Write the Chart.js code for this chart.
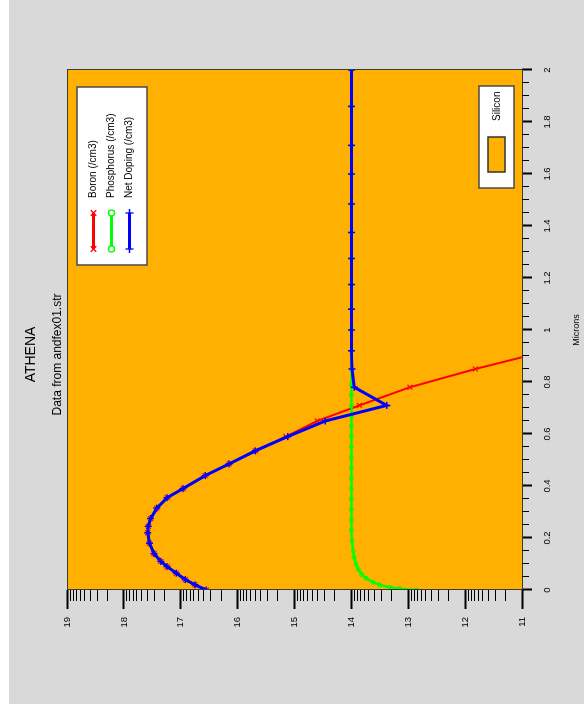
<!DOCTYPE html>
<html>
<head>
<meta charset="utf-8">
<script src="https://cdn.jsdelivr.net/npm/chart.js@4.4.1/dist/chart.umd.min.js"></script>
<style>
  html, body { margin: 0; padding: 0; background: #ffffff; overflow: hidden; }
  /* the plot is laid out landscape and turned a quarter turn for the portrait page */
  #frame {
    position: absolute; left: 0; top: 0;
    width: 709px; height: 584px;
    transform-origin: 0 0;
    transform: translateY(709px) rotate(-90deg);
    background: #ffffff;
  }
  #panel { position: absolute; left: 5px; top: 9px; width: 704px; height: 575px; background: #d9d9d9; }
  #plot { position: absolute; left: 0; top: 0; }
</style>
</head>
<body>
<div id="frame">
  <div id="panel"></div>
  <canvas id="plot" width="709" height="584"></canvas>
</div>
<script>
// Depth mesh (microns) shared by the boron and net doping profiles
const depth = [0, 0.02, 0.04, 0.065, 0.09, 0.11, 0.14, 0.18, 0.22, 0.245,
               0.275, 0.315, 0.355, 0.39, 0.44, 0.485, 0.535, 0.59, 0.65, 0.71,
               0.78, 0.85, 0.92, 1.0, 1.08, 1.175, 1.275, 1.375, 1.485, 1.6,
               1.71, 1.86, 2.0];

// log10 of concentration (/cm3)
const boron = [16.55, 16.75, 16.92, 17.08, 17.24, 17.35, 17.47, 17.55, 17.58, 17.57,
               17.53, 17.42, 17.24, 16.96, 16.57, 16.15, 15.69, 15.15, 14.60, 13.86,
               12.97, 11.82, 10.55];

const netDoping = [16.55, 16.75, 16.92, 17.08, 17.24, 17.35, 17.47, 17.55, 17.58, 17.57,
                   17.53, 17.42, 17.24, 16.96, 16.57, 16.15, 15.69, 15.12, 14.46, 13.38,
                   13.95, 13.99, 14.00, 14.00, 14.00, 14.00, 14.00, 14.00, 14.00, 14.00,
                   14.00, 14.00, 14.00];

// Phosphorus background, with its own finer sampling near the surface
const depthP = [0, 0.005, 0.01, 0.02, 0.03, 0.045, 0.06, 0.08, 0.1, 0.125,
                0.15, 0.19, 0.23, 0.27, 0.31, 0.35, 0.39, 0.43, 0.47, 0.51,
                0.55, 0.59, 0.63, 0.67, 0.71, 0.75, 0.79, 0.85, 0.92, 1.0,
                1.08, 1.175, 1.275, 1.375, 1.485, 1.6, 1.71, 1.86, 2.0];

const phosphorus = [12.85, 13.15, 13.32, 13.50, 13.62, 13.74, 13.82, 13.88, 13.92, 13.95,
                    13.97, 13.99, 14.00, 14.00, 14.00, 14.00, 14.00, 14.00, 14.00, 14.00,
                    14.00, 14.00, 14.00, 14.00, 14.00, 14.00, 14.00, 14.00, 14.00, 14.00,
                    14.00, 14.00, 14.00, 14.00, 14.00, 14.00, 14.00, 14.00, 14.00];

// Axis ticks
const micronTicks = [0, 0.2, 0.4, 0.6, 0.8, 1, 1.2, 1.4, 1.6, 1.8, 2];
const concTicks = [11, 12, 13, 14, 15, 16, 17, 18, 19];

const legendLabels = ['Boron (/cm3)', 'Phosphorus (/cm3)', 'Net Doping (/cm3)'];
const materialLabel = 'Silicon';

const FONT = "'Liberation Sans', Arial, Helvetica, sans-serif";
const SILICON = '#ffb000';
const RED = '#ff0000', GREEN = '#00ff00', BLUE = '#0000ff';

const toPoints = (xs, ys) => ys.map((y, i) => ({ x: xs[i], y }));

const series = [
  { label: legendLabels[0], color: RED,   style: 'crossRot', radius: 3.5, lw: 2,   pbw: 1.2 },
  { label: legendLabels[1], color: GREEN, style: 'circle',   radius: 2,   lw: 2.5, pbw: 1   },
  { label: legendLabels[2], color: BLUE,  style: 'cross',    radius: 3.5, lw: 3,   pbw: 1.5 }
];

// Orange material fill, frame, minor ticks and in-plot legend boxes
const plotDecor = {
  id: 'plotDecor',
  beforeDraw(chart) {
    const { ctx, chartArea: a } = chart;
    ctx.save();
    ctx.fillStyle = SILICON;
    ctx.fillRect(a.left, a.top, a.right - a.left, a.bottom - a.top);
    ctx.restore();
  },
  afterDraw(chart) {
    const { ctx, chartArea: a } = chart;
    const xs = chart.scales.x, ys = chart.scales.y;
    ctx.save();
    // frame
    ctx.strokeStyle = '#3a3a3a';
    ctx.lineWidth = 1;
    ctx.strokeRect(Math.round(a.left) + 0.5, Math.round(a.top) + 0.5,
                   Math.round(a.right - a.left), Math.round(a.bottom - a.top));

    // minor ticks on the depth axis every 0.05 micron
    ctx.strokeStyle = '#000';
    ctx.lineWidth = 1;
    ctx.beginPath();
    for (let i = 0; i < micronTicks.length - 1; i++) {
      for (let k = 1; k < 4; k++) {
        const v = micronTicks[i] + (micronTicks[i + 1] - micronTicks[i]) * k / 4;
        const px = Math.round(xs.getPixelForValue(v)) + 0.5;
        ctx.moveTo(px, a.bottom);
        ctx.lineTo(px, a.bottom + 7);
      }
    }
    // logarithmic minor ticks on the concentration axis
    for (let i = 0; i < concTicks.length - 1; i++) {
      for (let m = 2; m <= 9; m++) {
        const v = concTicks[i] + Math.log10(m);
        const py = Math.round(ys.getPixelForValue(v)) + 0.5;
        ctx.moveTo(a.left - 11, py);
        ctx.lineTo(a.left, py);
      }
    }
    ctx.stroke();

    // species legend
    const lx = 444, ly = 77, lw = 178, lh = 70;
    ctx.fillStyle = '#ffffff';
    ctx.fillRect(lx, ly, lw, lh);
    ctx.strokeStyle = '#4a4a4a';
    ctx.lineWidth = 1.5;
    ctx.strokeRect(lx, ly, lw, lh);
    const rows = [93.5, 111.5, 129.5];
    series.forEach((s, i) => {
      const y = rows[i];
      ctx.strokeStyle = s.color;
      ctx.fillStyle = s.color;
      ctx.lineWidth = 3;
      ctx.beginPath();
      ctx.moveTo(460, y);
      ctx.lineTo(496, y);
      ctx.stroke();
      ctx.lineWidth = 1.3;
      const opts = { pointStyle: s.style, radius: 4, borderWidth: 1.3, rotation: 0 };
      if (s.style === 'circle') {
        ctx.fillStyle = '#ffffff';
        opts.radius = 3;
      }
      Chart.helpers.drawPoint(ctx, opts, 460, y);
      Chart.helpers.drawPoint(ctx, opts, 496, y);
      ctx.fillStyle = '#000';
      ctx.font = '10px ' + FONT;
      ctx.textBaseline = 'middle';
      ctx.textAlign = 'left';
      ctx.fillText(s.label, 511, y);
    });

    // material legend
    const mx = 521, my = 479, mw = 102, mh = 35;
    ctx.fillStyle = '#ffffff';
    ctx.fillRect(mx, my, mw, mh);
    ctx.strokeStyle = '#4a4a4a';
    ctx.lineWidth = 1.5;
    ctx.strokeRect(mx, my, mw, mh);
    ctx.fillStyle = SILICON;
    ctx.fillRect(537, 488, 35, 17);
    ctx.strokeStyle = '#333';
    ctx.lineWidth = 1.5;
    ctx.strokeRect(537, 488, 35, 17);
    ctx.fillStyle = '#000';
    ctx.font = '10px ' + FONT;
    ctx.textBaseline = 'middle';
    ctx.textAlign = 'left';
    ctx.fillText(materialLabel, 588, 497);
    ctx.restore();
  }
};

const datasets = [
  { data: toPoints(depth, netDoping), s: series[2], order: 0 },
  { data: toPoints(depthP, phosphorus), s: series[1], order: 1 },
  { data: toPoints(depth, boron), s: series[0], order: 2 }
].map(d => ({
  label: d.s.label,
  data: d.data,
  order: d.order,
  borderColor: d.s.color,
  backgroundColor: d.s.style === 'circle' ? 'rgba(0,0,0,0)' : d.s.color,
  borderWidth: d.s.lw,
  pointStyle: d.s.style,
  pointRadius: d.s.radius,
  pointBorderColor: d.s.color,
  pointBorderWidth: d.s.pbw,
  pointHoverRadius: d.s.radius,
  tension: 0,
  fill: false
}));

new Chart(document.getElementById('plot'), {
  type: 'line',
  data: { datasets },
  plugins: [plotDecor],
  options: {
    responsive: false,
    animation: false,
    events: [],
    layout: { padding: { left: 0, right: 0, top: 0, bottom: 0 } },
    plugins: {
      legend: { display: false },
      tooltip: { enabled: false },
      title: {
        display: true, text: 'ATHENA', color: '#000',
        font: { family: FONT, size: 14, weight: 'normal' },
        padding: { top: 23, bottom: 3 }
      },
      subtitle: {
        display: true, text: 'Data from andfex01.str', color: '#000',
        font: { family: FONT, size: 12, weight: 'normal' },
        padding: { top: 8, bottom: 1.8 }
      }
    },
    scales: {
      x: {
        type: 'linear', position: 'bottom', min: 0, max: 2,
        afterBuildTicks: s => { s.ticks = micronTicks.map(v => ({ value: v })); },
        afterFit: s => { s.height = 62; },
        grid: { display: true, drawOnChartArea: false, drawTicks: true, tickLength: 10, tickWidth: 2, tickColor: '#000' },
        border: { display: false },
        ticks: { color: '#000', font: { family: FONT, size: 9.5 }, padding: 10, maxRotation: 0, autoSkip: false,
                 callback: v => String(v) },
        title: { display: true, text: 'Microns', color: '#000', font: { family: FONT, size: 9 }, padding: { top: 0, bottom: 2 } }
      },
      y: {
        type: 'linear', position: 'left', min: 11, max: 19,
        afterBuildTicks: s => { s.ticks = concTicks.map(v => ({ value: v })); },
        afterFit: s => { s.width = 119; },
        grid: { display: true, drawOnChartArea: false, drawTicks: true, tickLength: 19, tickWidth: 2, tickColor: '#000' },
        border: { display: false },
        ticks: { color: '#000', font: { family: FONT, size: 9.5 }, padding: 8, autoSkip: false,
                 callback: v => String(v) }
      },
      margin: {
        type: 'linear', position: 'right', display: true,
        afterFit: s => { s.width = 70; },
        grid: { display: false },
        border: { display: false },
        ticks: { display: false }
      }
    }
  }
});
</script>
</body>
</html>
